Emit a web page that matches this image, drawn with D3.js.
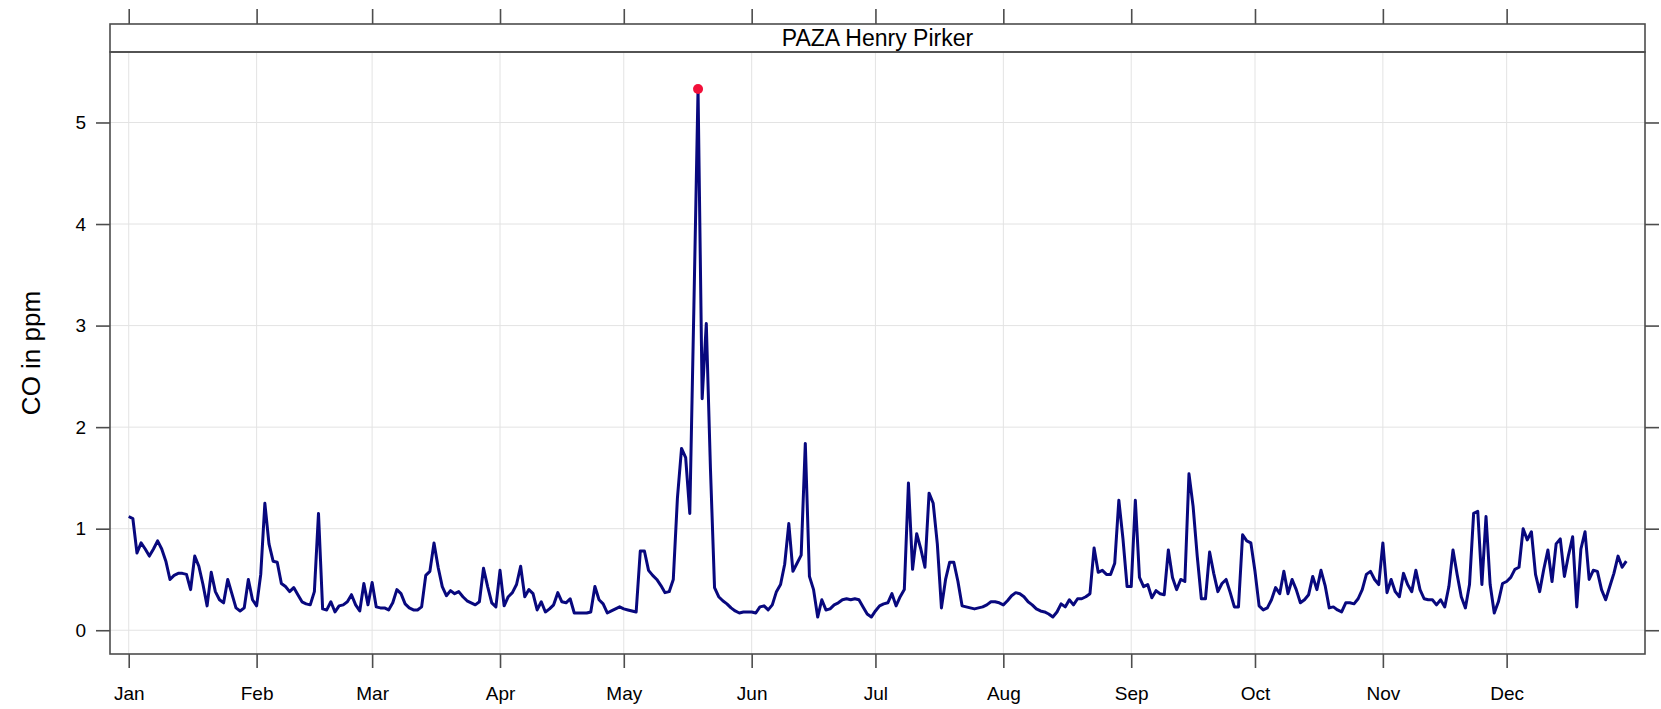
<!DOCTYPE html>
<html>
<head>
<meta charset="utf-8">
<title>CO in ppm - PAZA Henry Pirker</title>
<script src="https://cdn.jsdelivr.net/npm/d3@7"></script>
<style>
    body { margin: 0; background: #ffffff; }
    svg { display: block; font-family: "Liberation Sans", Arial, sans-serif; }
</style>
</head>
<body>
<svg id="drawing_region"></svg>
<script>
// daily mean CO (ppm), one array per month
const year = 2017;
const siteName = "PAZA Henry Pirker";
const yLabel = "CO in ppm";
const monthLabels = ["Jan","Feb","Mar","Apr","May","Jun","Jul","Aug","Sep","Oct","Nov","Dec"];
const yTicks = [0, 1, 2, 3, 4, 5];

const coJan = [1.12,1.10,0.76,0.86,0.80,0.73,0.80,0.88,0.80,0.68,0.50,0.54,0.56,0.56,0.55,0.40,0.73,0.63,0.45,0.24,0.57,0.38,0.30,0.27,0.50,0.36,0.22,0.19,0.22,0.50,0.30];
const coFeb = [0.24,0.55,1.25,0.85,0.68,0.67,0.46,0.43,0.38,0.42,0.35,0.28,0.26,0.25,0.38,1.15,0.21,0.20,0.28,0.18,0.24,0.25,0.28,0.35,0.25,0.19,0.46,0.25];
const coMar = [0.47,0.23,0.22,0.22,0.20,0.27,0.40,0.36,0.26,0.22,0.20,0.20,0.23,0.54,0.58,0.86,0.62,0.43,0.34,0.39,0.36,0.38,0.33,0.29,0.27,0.25,0.28,0.61,0.43,0.27,0.23];
const coApr = [0.59,0.24,0.33,0.37,0.45,0.63,0.33,0.40,0.36,0.20,0.28,0.18,0.21,0.25,0.37,0.28,0.27,0.31,0.17,0.17,0.17,0.17,0.18,0.43,0.30,0.26,0.17,0.19,0.21,0.23];
const coMay = [0.21,0.20,0.19,0.18,0.78,0.78,0.59,0.54,0.50,0.44,0.37,0.38,0.50,1.30,1.79,1.70,1.15,3.20,5.33,2.28,3.02,1.60,0.42,0.33,0.29,0.26,0.22,0.19,0.17,0.18,0.18];
const coJun = [0.18,0.17,0.23,0.24,0.20,0.25,0.38,0.45,0.65,1.05,0.58,0.66,0.74,1.84,0.53,0.40,0.13,0.30,0.20,0.21,0.25,0.27,0.30,0.31,0.30,0.31,0.30,0.23,0.16,0.13];
const coJul = [0.19,0.24,0.26,0.27,0.36,0.24,0.33,0.40,1.45,0.60,0.95,0.80,0.62,1.35,1.25,0.85,0.22,0.50,0.67,0.67,0.48,0.24,0.23,0.22,0.21,0.22,0.23,0.25,0.28,0.28,0.27];
const coAug = [0.25,0.29,0.34,0.37,0.36,0.33,0.28,0.25,0.21,0.19,0.18,0.16,0.13,0.18,0.26,0.23,0.30,0.25,0.31,0.31,0.33,0.36,0.81,0.57,0.59,0.55,0.55,0.66,1.28,0.90,0.43];
const coSep = [0.43,1.28,0.52,0.43,0.45,0.32,0.39,0.36,0.35,0.79,0.52,0.40,0.50,0.48,1.54,1.22,0.73,0.31,0.31,0.77,0.56,0.38,0.46,0.50,0.37,0.23,0.23,0.94,0.88,0.86];
const coOct = [0.58,0.24,0.20,0.22,0.30,0.42,0.36,0.58,0.36,0.50,0.40,0.27,0.30,0.35,0.53,0.40,0.59,0.44,0.22,0.23,0.20,0.18,0.27,0.27,0.26,0.31,0.40,0.55,0.58,0.50,0.45];
const coNov = [0.86,0.37,0.50,0.38,0.33,0.56,0.45,0.38,0.59,0.40,0.31,0.30,0.30,0.25,0.30,0.23,0.43,0.79,0.55,0.33,0.22,0.45,1.15,1.17,0.45,1.12,0.45,0.17,0.28,0.46];
const coDec = [0.48,0.52,0.60,0.62,1.00,0.89,0.97,0.55,0.38,0.60,0.79,0.48,0.85,0.90,0.53,0.74,0.92,0.23,0.80,0.97,0.50,0.59,0.58,0.40,0.30,0.43,0.56,0.73,0.62,0.68];

const months = [coJan, coFeb, coMar, coApr, coMay, coJun, coJul, coAug, coSep, coOct, coNov, coDec];

let data = [];
months.forEach( (values, m) => {
    values.forEach( (v, i) => {
        data.push({ date: new Date(year, m, i + 1), co: v });
    });
});

var config = {
    parent: '#drawing_region',
    width: 1661,
    height: 709,
    margin: {top:24, right:16, bottom:55, left:110},
    strip: 28
};

class TimePlot {

    constructor( config, data ) {
        this.config = config;
        this.data = data;
        this.init();
    }

    init() {
        let self = this;

        self.svg = d3.select( self.config.parent )
            .attr('width', self.config.width)
            .attr('height', self.config.height);

        self.left = self.config.margin.left;
        self.right = self.config.width - self.config.margin.right;
        self.top = self.config.margin.top;
        self.panel_top = self.top + self.config.strip;
        self.bottom = self.config.height - self.config.margin.bottom;

        self.xscale = d3.scaleTime()
            .range( [self.left, self.right] );

        self.yscale = d3.scaleLinear()
            .range( [self.bottom, self.panel_top] );

        self.grid = self.svg.append('g');
        self.plot = self.svg.append('g');
        self.frame = self.svg.append('g');
    }

    update() {
        let self = this;

        const first = d3.min( self.data, d => d.date );
        const last = d3.max( self.data, d => d.date );
        const xpad = (last - first) * 0.0125;
        self.xscale.domain( [new Date(+first - xpad), new Date(+last + xpad)] );

        const ymin = d3.min( self.data, d => d.co );
        const ymax = d3.max( self.data, d => d.co );
        const ypad = (ymax - ymin) * 0.07;
        self.yscale.domain( [ymin - ypad, ymax + ypad] );

        self.monthTicks = d3.timeMonth.range( new Date(year, 0, 1), new Date(year + 1, 0, 1) );

        self.render();
    }

    render() {
        let self = this;
        const axisColor = '#4d4d4d';

        // grid
        self.grid.selectAll('.vgrid')
            .data(self.monthTicks)
            .join('line')
            .attr('class', 'vgrid')
            .attr('x1', d => self.xscale(d)).attr('x2', d => self.xscale(d))
            .attr('y1', self.panel_top).attr('y2', self.bottom)
            .attr('stroke', '#e3e3e3').attr('stroke-width', 1);

        self.grid.selectAll('.hgrid')
            .data(yTicks)
            .join('line')
            .attr('class', 'hgrid')
            .attr('x1', self.left).attr('x2', self.right)
            .attr('y1', d => self.yscale(d)).attr('y2', d => self.yscale(d))
            .attr('stroke', '#e3e3e3').attr('stroke-width', 1);

        // series
        const line = d3.line()
            .x( d => self.xscale(d.date) )
            .y( d => self.yscale(d.co) );

        self.plot.append('path')
            .datum(self.data)
            .attr('d', line)
            .attr('fill', 'none')
            .attr('stroke', '#08087e')
            .attr('stroke-width', 3)
            .attr('stroke-linejoin', 'round');

        // maximum marker
        const peak = self.data.reduce( (a, b) => b.co > a.co ? b : a );
        self.plot.append('circle')
            .attr('cx', self.xscale(peak.date))
            .attr('cy', self.yscale(peak.co))
            .attr('r', 5)
            .attr('fill', '#f2103a');

        // strip
        self.frame.append('rect')
            .attr('x', self.left).attr('y', self.top)
            .attr('width', self.right - self.left)
            .attr('height', self.config.strip)
            .attr('fill', '#ffffff')
            .attr('stroke', axisColor).attr('stroke-width', 1.6);

        self.frame.append('text')
            .attr('x', (self.left + self.right) / 2)
            .attr('y', self.top + self.config.strip / 2)
            .attr('text-anchor', 'middle')
            .attr('dominant-baseline', 'central')
            .style('font-size', '23px')
            .attr('fill', '#000')
            .text(siteName);

        // panel frame
        self.frame.append('rect')
            .attr('x', self.left).attr('y', self.panel_top)
            .attr('width', self.right - self.left)
            .attr('height', self.bottom - self.panel_top)
            .attr('fill', 'none')
            .attr('stroke', axisColor).attr('stroke-width', 1.6);

        // axes
        const xaxis_bottom = d3.axisBottom(self.xscale)
            .tickValues(self.monthTicks)
            .tickFormat( (d, i) => monthLabels[i] )
            .tickSize(14).tickPadding(19);
        const xaxis_top = d3.axisTop(self.xscale)
            .tickValues(self.monthTicks)
            .tickFormat('')
            .tickSize(15);
        const yaxis_left = d3.axisLeft(self.yscale)
            .tickValues(yTicks)
            .tickFormat(d3.format('d'))
            .tickSize(14).tickPadding(10);
        const yaxis_right = d3.axisRight(self.yscale)
            .tickValues(yTicks)
            .tickFormat('')
            .tickSize(14);

        const styleAxis = g => {
            g.select('.domain').remove();
            g.selectAll('.tick line').attr('stroke', axisColor).attr('stroke-width', 1.6);
            g.selectAll('.tick text')
                .attr('fill', '#000')
                .style('font-family', '"Liberation Sans", Arial, sans-serif')
                .style('font-size', '19px');
        };

        self.frame.append('g')
            .attr('transform', `translate(0, ${self.bottom})`)
            .call(xaxis_bottom).call(styleAxis);
        self.frame.append('g')
            .attr('transform', `translate(0, ${self.top})`)
            .call(xaxis_top).call(styleAxis);
        self.frame.append('g')
            .attr('transform', `translate(${self.left}, 0)`)
            .call(yaxis_left).call(styleAxis);
        self.frame.append('g')
            .attr('transform', `translate(${self.right}, 0)`)
            .call(yaxis_right).call(styleAxis);

        // y label
        self.svg.append('text')
            .attr('transform', `translate(31, ${(self.panel_top + self.bottom) / 2}) rotate(-90)`)
            .attr('text-anchor', 'middle')
            .attr('dominant-baseline', 'central')
            .style('font-size', '26px')
            .attr('fill', '#000')
            .text(yLabel);
    }
}

const time_plot = new TimePlot( config, data );
time_plot.update();
</script>
</body>
</html>
